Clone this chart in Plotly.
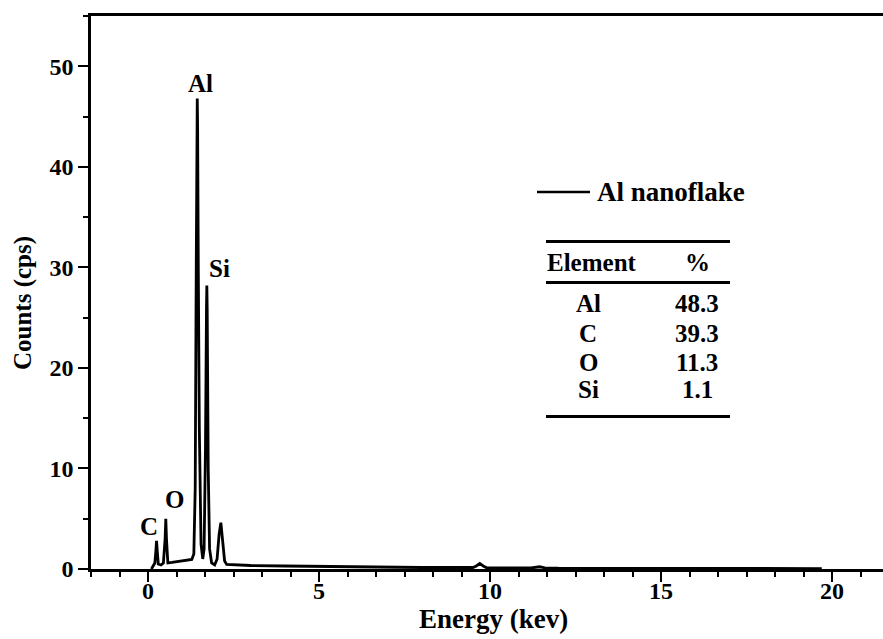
import plotly.graph_objects as go

# ---- spectrum (energy keV, counts cps) ----
energy = [0.10, 0.15, 0.20, 0.23, 0.25, 0.27, 0.30, 0.38, 0.45, 0.50, 0.52, 0.54, 0.58,
          0.70, 0.90, 1.10, 1.28, 1.34, 1.38, 1.41, 1.43, 1.44, 1.45, 1.47, 1.50,
          1.55, 1.60, 1.64, 1.68, 1.71, 1.72, 1.73, 1.76, 1.80, 1.86, 1.95,
          2.02, 2.08, 2.13, 2.18, 2.24, 2.30, 2.60, 3.00, 4.00, 5.00, 6.00,
          7.00, 8.00, 9.00, 9.50, 9.60, 9.70, 9.80, 9.90, 10.50, 11.20, 11.45,
          11.60, 12.00, 13.0, 14.0, 15.0, 16.0, 17.0, 18.0, 19.0, 19.7]
counts = [0.0, 0.3, 0.6, 1.8, 2.8, 1.8, 0.5, 0.4, 0.6, 3.0, 5.0, 3.0, 0.6,
          0.65, 0.75, 0.85, 0.95, 1.5, 8.0, 30.0, 44.0, 46.8, 44.0, 30.0, 14.0,
          2.5, 1.0, 2.0, 12.0, 26.0, 28.2, 26.0, 10.0, 2.0, 0.6, 0.4,
          1.0, 3.5, 4.6, 3.0, 0.8, 0.45, 0.4, 0.35, 0.3, 0.25, 0.2,
          0.18, 0.15, 0.15, 0.15, 0.3, 0.55, 0.3, 0.12, 0.1, 0.1, 0.22,
          0.12, 0.08, 0.07, 0.06, 0.05, 0.05, 0.04, 0.04, 0.04, 0.04]

series_name = "Al nanoflake"
x_title = "Energy (kev)"
y_title = "Counts (cps)"

# ---- peak labels ----
peak_labels = ["C", "O", "Al", "Si"]
peak_x = [0.02, 0.76, 1.52, 2.10]
peak_y = [4.2, 6.9, 48.3, 29.9]

# ---- composition table ----
table_header = ["Element", "%"]
table_elements = ["Al", "C", "O", "Si"]
table_percents = ["48.3", "39.3", "11.3", "1.1"]

# ---- axes ----
x_range = [-1.667, 21.49]
y_range = [0, 55]
x_ticks = [0, 5, 10, 15, 20]
y_ticks = [0, 10, 20, 30, 40, 50]

FONT = "Liberation Serif, Times New Roman, serif"
W, H = 883, 639
L, R, T, B = 91, 0, 16, 70
PW, PH = W - L - R, H - T - B


def px(xp):
    return (xp - L) / PW


def py(yp):
    return (H - B - yp) / PH


def bold(size):
    return dict(size=size, family=FONT, color="black", weight="bold")


fig = go.Figure()
fig.add_trace(go.Scatter(x=energy, y=counts, mode="lines", name=series_name,
                         showlegend=False, line=dict(color="black", width=2.8)))

annotations = []
for lab, xv, yv in zip(peak_labels, peak_x, peak_y):
    annotations.append(dict(x=xv, y=yv, xref="x", yref="y", text=lab, showarrow=False,
                            xanchor="center", yanchor="middle", font=bold(25)))

# axis titles
annotations.append(dict(x=px(493), y=py(619), xref="paper", yref="paper", text=x_title,
                        showarrow=False, xanchor="center", yanchor="middle",
                        font=bold(27)))
annotations.append(dict(x=px(23), y=py(303), xref="paper", yref="paper", text=y_title,
                        showarrow=False, xanchor="center", yanchor="middle",
                        textangle=-90, font=bold(25)))

# legend key (line + series name)
shapes = [dict(type="line", xref="paper", yref="paper", x0=px(537), x1=px(590),
               y0=py(192), y1=py(192), line=dict(color="black", width=2.5))]
annotations.append(dict(x=px(595), y=py(192), xref="paper", yref="paper",
                        text=series_name, showarrow=False, xanchor="left",
                        yanchor="middle", font=bold(27)))

# table text
col_x = [px(592), px(697)]
header_y = py(262)
row_y = [py(304), py(333), py(362), py(390)]
for cx, htxt in zip(col_x, table_header):
    annotations.append(dict(x=cx, y=header_y, xref="paper", yref="paper", text=htxt,
                            showarrow=False, xanchor="center", yanchor="middle",
                            font=bold(25)))
for ry, el, pc in zip(row_y, table_elements, table_percents):
    annotations.append(dict(x=col_x[0] - 4 / PW, y=ry, xref="paper", yref="paper", text=el,
                            showarrow=False, xanchor="center", yanchor="middle",
                            font=bold(25)))
    annotations.append(dict(x=col_x[1], y=ry, xref="paper", yref="paper", text=pc,
                            showarrow=False, xanchor="center", yanchor="middle",
                            font=bold(25)))

for ly in [241.5, 282.5, 416.5]:
    shapes.append(dict(type="line", xref="paper", yref="paper", x0=px(546), x1=px(730),
                       y0=py(ly), y1=py(ly), line=dict(color="black", width=3)))

fig.update_layout(
    width=W, height=H,
    margin=dict(l=L, r=R, t=T, b=B, autoexpand=False),
    paper_bgcolor="white", plot_bgcolor="white",
    font=bold(24),
    showlegend=False,
    annotations=annotations,
    shapes=shapes,
    xaxis=dict(range=x_range, tickvals=x_ticks, ticks="outside", ticklen=10, tickwidth=2,
               tickcolor="black", showline=True, linecolor="black", linewidth=2.5,
               mirror=True, showgrid=False, zeroline=False, automargin=False,
               tickfont=bold(24), ticklabelstandoff=-12,
               minor=dict(dtick=5 / 6, tick0=0, ticks="outside", ticklen=5, tickwidth=2,
                          tickcolor="black", showgrid=False)),
    yaxis=dict(range=y_range, tickvals=y_ticks, ticks="outside", ticklen=10, tickwidth=2,
               tickcolor="black", showline=True, linecolor="black", linewidth=2.5,
               mirror=False, showgrid=False, zeroline=False, automargin=False,
               tickfont=bold(24),
               minor=dict(dtick=5, tick0=0, ticks="outside", ticklen=5, tickwidth=2,
                          tickcolor="black", showgrid=False)),
)

fig.write_html("out.html", config={"displayModeBar": False},
               post_script="document.body.style.margin='0';")
